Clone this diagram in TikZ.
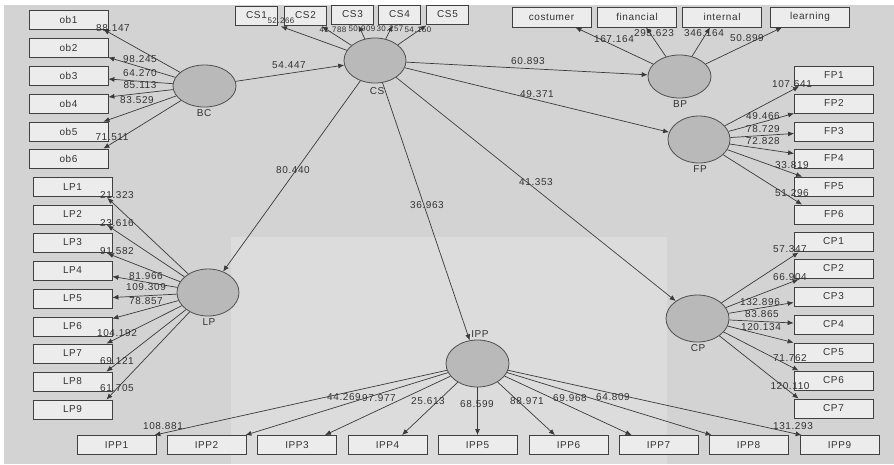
\documentclass[tikz,border=0pt]{standalone}
\usepackage{fontspec}
\setmainfont{Liberation Sans}[LetterSpace=6]
\usetikzlibrary{shapes.geometric,arrows.meta,calc}
\definecolor{bgc}{HTML}{D3D3D3}
\definecolor{bgl}{HTML}{DCDCDC}
\definecolor{boxfill}{HTML}{ECECEC}
\definecolor{boxline}{HTML}{404040}
\definecolor{lvfill}{HTML}{B9B9B9}
\definecolor{lvline}{HTML}{505050}
\definecolor{txt}{HTML}{333333}
\definecolor{edgec}{HTML}{3A3A3A}
\begin{document}
\begin{tikzpicture}[x=1pt,y=-1pt,
  box/.style={draw=boxline,fill=boxfill,line width=0.8pt,minimum width=79pt,minimum height=19pt,inner sep=0pt,font=\fontsize{10}{11}\selectfont,text=txt},
  csbox/.style={box,minimum width=42pt},
  lv/.style={ellipse,draw=lvline,fill=lvfill,line width=0.8pt,minimum width=63pt,minimum height=46pt,inner sep=0pt},
  lvname/.style={font=\fontsize{10}{11}\selectfont,text=txt,inner sep=0pt},
  val/.style={font=\fontsize{10}{11}\selectfont,text=txt,inner sep=0pt},
  sval/.style={val,font=\fontsize{8}{9}\selectfont},
  arr/.style={draw=edgec,line width=0.7pt,-{Latex[length=6pt,width=5pt]}},
]
\useasboundingbox (0,0) rectangle (894,464);
\fill[white] (0,0) rectangle (894,464);
\fill[bgc] (4,5) rectangle (894,464);
\fill[bgl] (231,237) rectangle (667,464);

% latent variables
\node[lv,minimum height=42pt] (BC) at (204.5,86) {};
\node[lv,minimum width=62pt,minimum height=45pt] (CS) at (375,60.5) {};
\node[lv,minimum height=43pt] (BP) at (679.5,76.5) {};
\node[lv,minimum width=62pt,minimum height=47pt] (FP) at (699,139.5) {};
\node[lv,minimum height=47pt] (CP) at (697.5,318.5) {};
\node[lv,minimum width=62pt,minimum height=47pt] (LP) at (208,292.5) {};
\node[lv,minimum height=47pt] (IPP) at (477.5,363.5) {};

\node[lvname] (nBC) at (204,113) {BC};
\node[lvname] (nCS) at (377,91) {CS};
\node[lvname] (nBP) at (680,104) {BP};
\node[lvname] (nFP) at (700,169) {FP};
\node[lvname] (nCP) at (698,348) {CP};
\node[lvname] (nLP) at (209,322) {LP};
\node[lvname] (nIPP) at (480,334) {IPP};

% indicator boxes
\foreach \i/\y in {1/19.5,2/47.5,3/75.5,4/103.5,5/131.5,6/158.5}
  \node[box] (ob\i) at (68.5,\y) {ob\i};
\node[csbox] (CS1) at (256.5,15.5) {CS1};
\node[csbox] (CS2) at (305.5,15.5) {CS2};
\node[csbox] (CS3) at (352.5,14.5) {CS3};
\node[csbox] (CS4) at (399.5,14.5) {CS4};
\node[csbox] (CS5) at (447.5,14.5) {CS5};
\node[box,minimum height=20pt] (costumer) at (551.5,17) {costumer};
\node[box,minimum height=20pt] (financial) at (637,17) {financial};
\node[box,minimum height=20pt] (internal) at (722,17) {internal};
\node[box,minimum height=20pt] (learning) at (810,17) {learning};
\foreach \i/\y in {1/75.5,2/103.5,3/131.5,4/158.5,5/186.5,6/214.5}
  \node[box] (FP\i) at (834,\y) {FP\i};
\foreach \i/\y in {1/241.5,2/268.5,3/296.5,4/324.5,5/352.5,6/380.5,7/408.5}
  \node[box] (CP\i) at (833.5,\y) {CP\i};
\foreach \i/\y in {1/187,2/214.5,3/242.5,4/270.5,5/298.5,6/326.5,7/353.5,8/381.5,9/409.5}
  \node[box] (LP\i) at (72.5,\y) {LP\i};
\foreach \i/\x in {1/116.5,2/206.5,3/297,4/387.5,5/477.5,6/568.5,7/658.5,8/748.5,9/839.5}
  \node[box] (IPP\i) at (\x,445) {IPP\i};

% structural paths
\draw[arr] (BC) -- (CS);
\draw[arr] (CS) -- (BP);
\draw[arr] (CS) -- (FP);
\draw[arr] (CS) -- (CP);
\draw[arr] (CS) -- (LP);
\draw[arr] (CS) -- (IPP);

% BC loadings
\draw[arr] (BC) -- ($(ob1.south east)+(-5,0)$);
\draw[arr] (BC) -- (ob2.south east);
\draw[arr] (BC) -- ($(ob3.east)+(0,3.5)$);
\draw[arr] (BC) -- ($(ob4.east)+(0,-6.5)$);
\draw[arr] (BC) -- ($(ob5.north east)+(-5,0)$);
\draw[arr] (BC) -- ($(ob6.north east)+(-5,0)$);

% CS loadings
\draw[arr] (CS) -- ($(CS1.south east)+(3,1)$);
\draw[arr] (CS) -- ($(CS2.south east)+(-5,1)$);
\draw[arr] (CS) -- ($(CS3.south)+(6,1)$);
\draw[arr] (CS) -- ($(CS4.south)+(-7,1)$);
\draw[arr] (CS) -- ($(CS5.south west)+(0,1)$);

% BP loadings
\draw[arr] (BP) -- ($(costumer.south east)+(-16,0)$);
\draw[arr] (BP) -- ($(financial.south)+(9,0)$);
\draw[arr] (BP) -- ($(internal.south)+(-12,0)$);
\draw[arr] (BP) -- ($(learning.south west)+(12,0)$);

% FP loadings
\draw[arr] (FP) -- ($(FP1.south west)+(5,1)$);
\draw[arr] (FP) -- (FP2.south west);
\draw[arr] (FP) -- ($(FP3.west)+(0,2)$);
\draw[arr] (FP) -- ($(FP4.west)+(0,-5)$);
\draw[arr] (FP) -- ($(FP5.north west)+(8,0)$);
\draw[arr] (FP) -- ($(FP6.north west)+(8,0)$);

% CP loadings
\draw[arr] (CP) -- ($(CP1.south west)+(5,1)$);
\draw[arr] (CP) -- ($(CP2.south west)+(5,1)$);
\draw[arr] (CP) -- ($(CP3.west)+(0,6)$);
\draw[arr] (CP) -- ($(CP4.west)+(0,-1.5)$);
\draw[arr] (CP) -- (CP5.north west);
\draw[arr] (CP) -- ($(CP6.north west)+(5,0)$);
\draw[arr] (CP) -- ($(CP7.north west)+(5,0)$);

% LP loadings
\draw[arr] (LP) -- ($(LP1.south east)+(-5,1)$);
\draw[arr] (LP) -- ($(LP2.south east)+(-5,1)$);
\draw[arr] (LP) -- ($(LP3.south east)+(-5,1)$);
\draw[arr] (LP) -- ($(LP4.east)+(0,6)$);
\draw[arr] (LP) -- ($(LP5.east)+(0,-1)$);
\draw[arr] (LP) -- ($(LP6.north east)+(0,2)$);
\draw[arr] (LP) -- ($(LP7.north east)+(-6,0)$);
\draw[arr] (LP) -- ($(LP8.north east)+(-6,0)$);
\draw[arr] (LP) -- ($(LP9.north east)+(-6,0)$);

% IPP loadings
\draw[arr] (IPP) -- ($(IPP1.north east)+(-2,0)$);
\draw[arr] (IPP) -- ($(IPP2.north east)+(-1,0)$);
\draw[arr] (IPP) -- ($(IPP3.north east)+(-12,0)$);
\draw[arr] (IPP) -- ($(IPP4.north)+(14.5,0)$);
\draw[arr] (IPP) -- (IPP5.north);
\draw[arr] (IPP) -- ($(IPP6.north)+(-13.5,0)$);
\draw[arr] (IPP) -- ($(IPP7.north west)+(13,0)$);
\draw[arr] (IPP) -- ($(IPP8.north west)+(3,0)$);
\draw[arr] (IPP) -- ($(IPP9.north west)+(2,0)$);

% path values
\node[val] (vBCCS) at (289,65) {54.447};
\node[val] (vCSBP) at (528,61) {60.893};
\node[val] (vCSFP) at (537,94) {49.371};
\node[val] (vCSCP) at (536,182) {41.353};
\node[val] (vCSLP) at (293,170) {80.440};
\node[val] (vCSIPP) at (427,205) {36.963};

% BC values
\node[val] (vob1) at (113,28) {88.147};
\node[val] (vob2) at (140,59) {98.245};
\node[val] (vob3) at (140,73) {64.270};
\node[val] (vob4) at (140,85) {85.113};
\node[val] (vob5) at (137,100) {83.529};
\node[val] (vob6) at (112,137) {71.511};

% CS values
\node[sval] (vcs1) at (281,21) {52.266};
\node[sval] (vcs2) at (333,30) {41.788};
\node[sval] (vcs3) at (362,29) {50.909};
\node[sval] (vcs4) at (390,29) {30.257};
\node[sval] (vcs5) at (418,30) {54.150};

% BP values
\node[val] (vbp1) at (614,39) {167.164};
\node[val] (vbp2) at (654,33) {293.623};
\node[val] (vbp3) at (704,33) {346.164};
\node[val] (vbp4) at (747,38) {50.899};

% FP values
\node[val] (vfp1) at (792,84) {107.641};
\node[val] (vfp2) at (763,116) {49.466};
\node[val] (vfp3) at (763,129) {78.729};
\node[val] (vfp4) at (763,141) {72.828};
\node[val] (vfp5) at (792,165) {33.819};
\node[val] (vfp6) at (792,193) {51.296};

% CP values
\node[val] (vcp1) at (790,249) {57.347};
\node[val] (vcp2) at (790,277) {66.904};
\node[val] (vcp3) at (760,302) {132.896};
\node[val] (vcp4) at (762,314) {83.865};
\node[val] (vcp5) at (761,327) {120.134};
\node[val] (vcp6) at (790,358) {71.762};
\node[val] (vcp7) at (790,386) {120.110};

% LP values
\node[val] (vlp1) at (117,195) {21.323};
\node[val] (vlp2) at (117,223) {23.616};
\node[val] (vlp3) at (117,251) {91.582};
\node[val] (vlp4) at (146,276) {81.966};
\node[val] (vlp5) at (146,287) {109.309};
\node[val] (vlp6) at (146,301) {78.857};
\node[val] (vlp7) at (117,333) {104.192};
\node[val] (vlp8) at (117,361) {69.121};
\node[val] (vlp9) at (117,388) {61.705};

% IPP values
\node[val] (vipp1) at (163,426) {108.881};
\node[val] (vipp2) at (344,397) {44.269};
\node[val] (vipp3) at (379,398) {97.977};
\node[val] (vipp4) at (428,401) {25.613};
\node[val] (vipp5) at (477,404) {68.599};
\node[val] (vipp6) at (527,401) {88.971};
\node[val] (vipp7) at (570,398) {69.968};
\node[val] (vipp8) at (613,397) {64.809};
\node[val] (vipp9) at (793,426) {131.293};
\end{tikzpicture}
\end{document}
